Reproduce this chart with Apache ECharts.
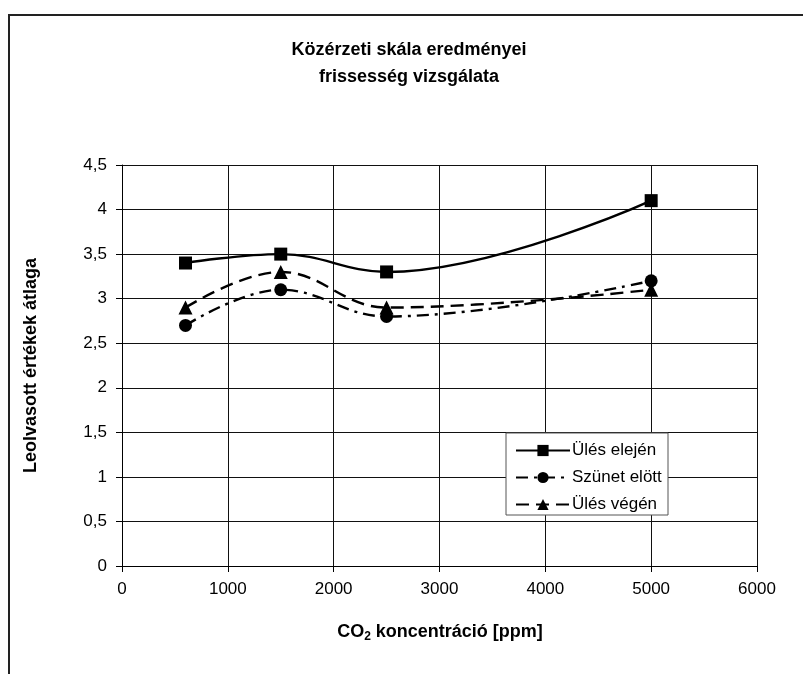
<!DOCTYPE html>
<html>
<head>
<meta charset="utf-8">
<script src="https://cdn.jsdelivr.net/npm/echarts@6/dist/echarts.min.js"></script>
<style>
html,body{margin:0;padding:0;background:#fff;}
#chart{width:803px;height:674px;}
</style>
</head>
<body>
<div id="chart"></div>
<script>
var titleLines = ['Közérzeti skála eredményei', 'frissesség vizsgálata'];
var xName = 'CO2 koncentráció [ppm]';
var yName = 'Leolvasott értékek átlaga';
var seriesNames = ['Ülés elején', 'Szünet elött', 'Ülés végén'];
var xValues = [600, 1500, 2500, 5000];
var ulesElejen = [3.4, 3.5, 3.3, 4.1];
var szunetElott = [2.7, 3.1, 2.8, 3.2];
var ulesVegen = [2.9, 3.3, 2.9, 3.1];

function pairs(ys){ return xValues.map(function(x,i){ return [x, ys[i]]; }); }

var font = '"Liberation Sans", Arial, sans-serif';
var chart = echarts.init(document.getElementById('chart'), null, {renderer:'canvas'});
chart.setOption({
  backgroundColor:'#fff',
  animation:false,
  title:{
    text: titleLines.join('\n'),
    left: 404, top: 32, textAlign:'center',
    textStyle:{fontFamily:font, fontSize:18, fontWeight:'bold', color:'#000', lineHeight:27}
  },
  graphic:[
    {type:'polyline', shape:{points:[[9,674],[9,15],[803,15]]}, style:{stroke:'#222', lineWidth:2, fill:null}, silent:true},
    {type:'text', x:440, y:632, style:{
      text:'{a|CO}{s|2}{a| koncentráció [ppm]}',
      align:'center', verticalAlign:'middle',
      rich:{a:{fontFamily:font, fontSize:18, fontWeight:'bold', fill:'#000'},
            s:{fontFamily:font, fontSize:12, fontWeight:'bold', fill:'#000', padding:[9,0,0,0]}}
    }},
    {type:'rect', shape:{x:506, y:433, width:162, height:82}, style:{stroke:'#555', lineWidth:1, fill:'#fff'}, z:5}
  ],
  grid:{left:122, right:46, top:165, bottom:108},
  xAxis:{
    type:'value', min:0, max:6000, interval:1000,
    axisLine:{show:true, lineStyle:{color:'#000', width:1}},
    axisTick:{show:true, inside:false, length:6, lineStyle:{color:'#000'}},
    axisLabel:{fontFamily:font, fontSize:17, color:'#000', margin:15,
      formatter:function(v){ return String(v); }},
    splitLine:{show:true, lineStyle:{color:'#111', width:1}}
  },
  yAxis:{
    type:'value', min:0, max:4.5, interval:0.5,
    name: yName, nameLocation:'middle', nameGap:82,
    nameTextStyle:{fontFamily:font, fontSize:18, fontWeight:'bold', color:'#000'},
    axisLine:{show:true, lineStyle:{color:'#000', width:1}},
    axisTick:{show:true, inside:false, length:6, lineStyle:{color:'#000'}},
    axisLabel:{fontFamily:font, fontSize:17, color:'#000', margin:15,
      formatter:function(v){ return String(v).replace('.', ','); }},
    splitLine:{show:true, lineStyle:{color:'#111', width:1}}
  },
  legend:{
    left:510, top:437, orient:'vertical', itemGap:10, itemWidth:54, itemHeight:14,
    textStyle:{fontFamily:font, fontSize:17, color:'#000', padding:[0,0,0,-3]},
    data: seriesNames, z:10
  },
  series:[
    {name:seriesNames[0], type:'line', data:pairs(ulesElejen), smooth:0.4,
     symbol:'rect', symbolSize:13, itemStyle:{color:'#000'},
     lineStyle:{color:'#000', width:2.4, type:'solid'}},
    {name:seriesNames[1], type:'line', data:pairs(szunetElott), smooth:0.4,
     symbol:'circle', symbolSize:13, itemStyle:{color:'#000'},
     lineStyle:{color:'#000', width:2.4, type:[12,6,3,6]}},
    {name:seriesNames[2], type:'line', data:pairs(ulesVegen), smooth:0.4,
     symbol:'triangle', symbolSize:14, itemStyle:{color:'#000'},
     lineStyle:{color:'#000', width:2.4, type:[13,7]}}
  ]
});
</script>
</body>
</html>
